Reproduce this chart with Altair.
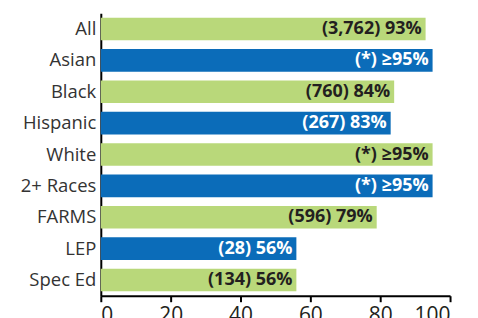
import altair as alt
import pandas as pd

categories = ["All", "Asian", "Black", "Hispanic", "White", "2+  Races", "FARMS", "LEP", "Spec Ed"]
values = [93, 95, 84, 83, 95, 95, 79, 56, 56]
labels = ["(3,762) 93%", "(*) \u226595%", "(760) 84%", "(267) 83%", "(*) \u226595%",
          "(*) \u226595%", "(596) 79%", "(28) 56%", "(134) 56%"]
bar_colors = ["#b9d87a", "#0b6cb9", "#b9d87a", "#0b6cb9", "#b9d87a", "#0b6cb9", "#b9d87a", "#0b6cb9", "#b9d87a"]
text_colors = ["#231f20", "#ffffff", "#231f20", "#ffffff", "#231f20", "#ffffff", "#231f20", "#ffffff", "#231f20"]

df = pd.DataFrame({"cat": categories, "val": values, "lab": labels,
                   "bc": bar_colors, "tc": text_colors})

FONT = "Open Sans"

y = alt.Y("cat:N", sort=categories, title=None,
          scale=alt.Scale(paddingInner=0.28, paddingOuter=0.14),
          axis=alt.Axis(domainColor="#000000", domainWidth=2, ticks=False,
                        labelFontSize=18.5, labelColor="#333333", labelPadding=5,
                        labelFont=FONT, labelLimit=200))
x = alt.X("val:Q", title=None,
          scale=alt.Scale(domain=[0, 100], nice=False),
          axis=alt.Axis(values=[0, 20, 40, 60, 80, 100], grid=False,
                        domainColor="#000000", domainWidth=2,
                        tickColor="#000000", tickWidth=2, tickSize=6,
                        labelFontSize=21, labelColor="#231f20", labelPadding=3,
                        labelFont=FONT))

bars = alt.Chart(df).mark_bar().encode(
    x=x, y=y, fill=alt.Fill("bc:N", scale=None)
)
text = alt.Chart(df).mark_text(align="right", dx=-4, fontSize=18, fontWeight="bold",
                               font=FONT, baseline="middle").encode(
    x="val:Q", y=alt.Y("cat:N", sort=categories), text="lab:N",
    fill=alt.Fill("tc:N", scale=None)
)

chart = alt.layer(bars, text).properties(
    width=350, height=283,
    padding={"left": 93, "top": 5, "right": 20, "bottom": 30},
    autosize=alt.AutoSizeParams(type="none")
).configure_view(stroke=None)

chart.save("out.html", embed_options={"renderer": "svg", "actions": False})
